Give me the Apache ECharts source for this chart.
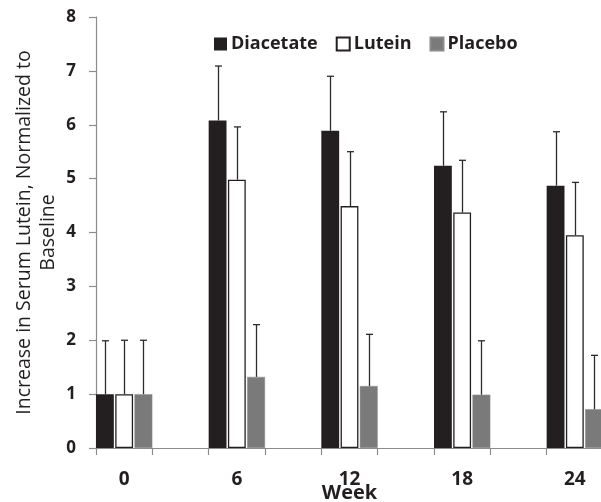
<!DOCTYPE html>
<html>
<head>
<meta charset="utf-8">
<script src="https://cdn.jsdelivr.net/npm/echarts@6/dist/echarts.min.js"></script>
<style>
html,body{margin:0;padding:0;background:#fff;}
#chart{width:601px;height:502px;}
</style>
</head>
<body>
<div id="chart"></div>
<script>
const weeks = ['0', '6', '12', '18', '24'];
const diacetate = [1.0, 6.08, 5.89, 5.24, 4.87];
const diacetateUpper = [1.99, 7.09, 6.90, 6.24, 5.87];
const lutein = [1.0, 4.98, 4.49, 4.37, 3.95];
const luteinUpper = [2.0, 5.96, 5.50, 5.34, 4.93];
const placebo = [1.0, 1.32, 1.15, 0.99, 0.72];
const placeboUpper = [2.0, 2.29, 2.11, 1.99, 1.72];
const yTicks = [0, 1, 2, 3, 4, 5, 6, 7, 8];

// category slots: each week followed by an empty spacer slot
const slots = [];
weeks.forEach((w, i) => { slots.push(w); if (i < weeks.length - 1) slots.push(''); });
function spread(arr) {
  const out = [];
  arr.forEach((v, i) => { out.push(v); if (i < arr.length - 1) out.push('-'); });
  return out;
}
const BAR_GAP = 0.08;
const TXT = '#231f20';
const FONT = '"Open Sans", sans-serif';

function errData(vals, uppers, si) {
  return vals.map((v, i) => [i * 2, v, uppers[i], si]);
}
function renderErr(params, api) {
  const x = api.value(0), v = api.value(1), up = api.value(2), si = api.value(3);
  const cw = api.size([1, 0])[0];
  const w = cw / (3 + 2 * BAR_GAP);
  const off = (si - 1) * w * (1 + BAR_GAP);
  const p0 = api.coord([x, v]);
  const p1 = api.coord([x, up]);
  const cx = Math.round(p0[0] + off) + 0.5;
  const cap = 3.5;
  const st = { stroke: '#2b2b2b', lineWidth: 1.3 };
  return {
    type: 'group',
    children: [
      { type: 'line', shape: { x1: cx, y1: p0[1], x2: cx, y2: p1[1] }, style: st },
      { type: 'line', shape: { x1: cx - cap, y1: p1[1], x2: cx + cap, y2: p1[1] }, style: st }
    ]
  };
}

const chart = echarts.init(document.getElementById('chart'));
chart.setOption({
  backgroundColor: '#fff',
  animation: false,
  grid: { left: 96, right: -2, top: 17, bottom: 54, containLabel: false, outerBoundsMode: 'none' },
  legend: {
    data: ['Diacetate', 'Lutein', 'Placebo'],
    left: 209, top: 30,
    icon: 'rect', itemWidth: 13, itemHeight: 13, itemGap: 18,
    textStyle: { fontFamily: FONT, fontWeight: 'bold', fontSize: 18, color: TXT, padding: [0, 0, 0, -1] }
  },
  xAxis: {
    type: 'category',
    data: slots,
    name: 'Week',
    nameLocation: 'middle',
    nameGap: 35,
    nameMoveOverlap: false,
    nameTextStyle: { fontFamily: FONT, fontWeight: 'bold', fontSize: 20, color: TXT },
    axisLine: { lineStyle: { color: '#8c8c8c', width: 1.2 } },
    axisTick: { show: true, interval: 0, length: 7, lineStyle: { color: '#8c8c8c', width: 1.2 } },
    axisLabel: { interval: 0, margin: 22, fontFamily: FONT, fontWeight: 'bold', fontSize: 19, color: TXT }
  },
  yAxis: {
    type: 'value',
    min: yTicks[0], max: yTicks[yTicks.length - 1], interval: 1,
    name: 'Increase in Serum Lutein, Normalized to\nBaseline',
    nameLocation: 'middle',
    nameGap: 36,
    nameMoveOverlap: false,
    nameTextStyle: { fontFamily: FONT, fontSize: 19.5, color: TXT, lineHeight: 24 },
    splitLine: { show: false },
    axisLine: { show: true, lineStyle: { color: '#8c8c8c', width: 1.2 } },
    axisTick: { show: true, length: 7, lineStyle: { color: '#8c8c8c', width: 1.2 } },
    axisLabel: { margin: 20, fontFamily: FONT, fontWeight: 'bold', fontSize: 17, color: TXT }
  },
  series: [
    { name: 'Diacetate', type: 'bar', data: spread(diacetate), barCategoryGap: '0%', barGap: (BAR_GAP * 100) + '%',
      itemStyle: { color: '#231f20' } },
    { name: 'Lutein', type: 'bar', data: spread(lutein),
      itemStyle: { color: '#ffffff', borderColor: '#231f20', borderWidth: 1.3 } },
    { name: 'Placebo', type: 'bar', data: spread(placebo),
      itemStyle: { color: '#7a7a7a', borderColor: '#8a8a8a', borderWidth: 0.5 } },
    { type: 'custom', renderItem: renderErr, data: errData(diacetate, diacetateUpper, 0), z: 5 },
    { type: 'custom', renderItem: renderErr, data: errData(lutein, luteinUpper, 1), z: 5 },
    { type: 'custom', renderItem: renderErr, data: errData(placebo, placeboUpper, 2), z: 5 }
  ]
});
</script>
</body>
</html>
